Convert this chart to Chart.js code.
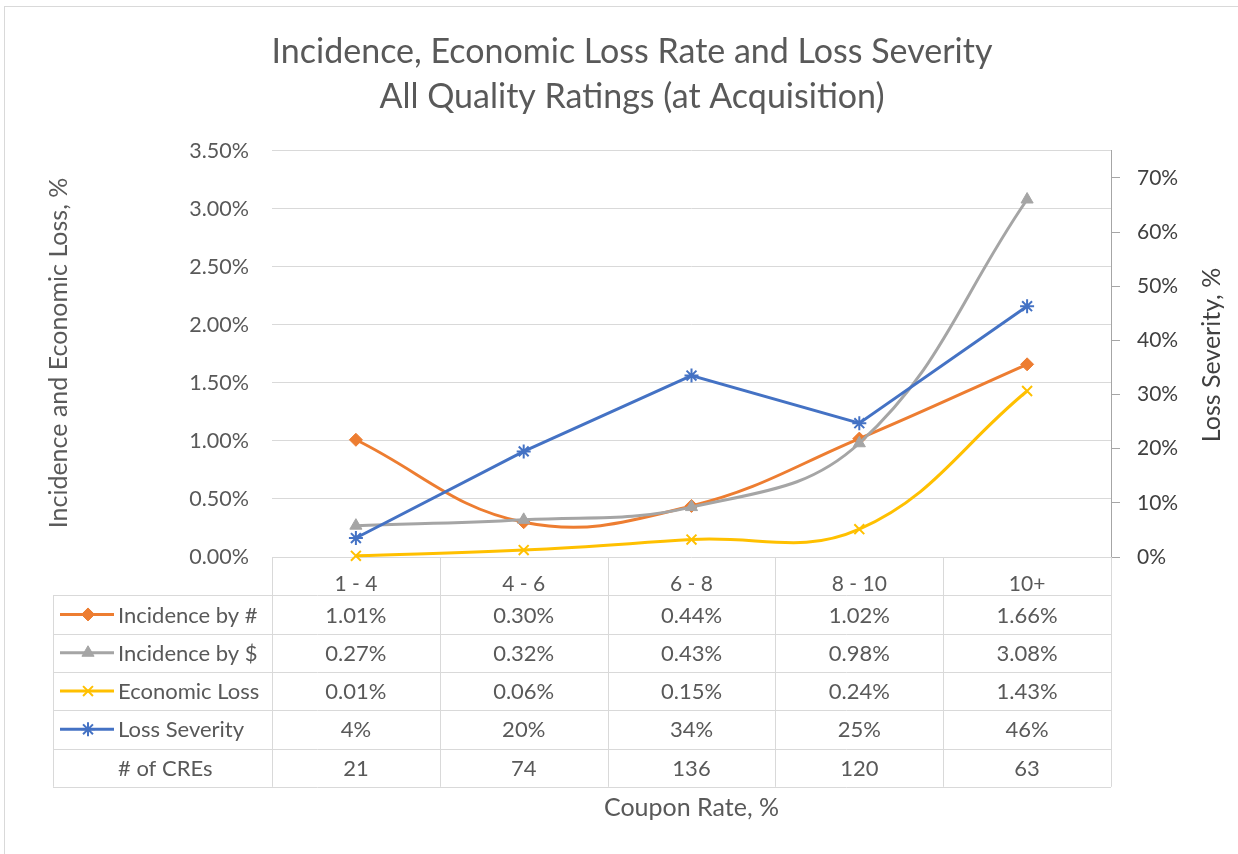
<!DOCTYPE html>
<html lang="en">
<head>
  <meta charset="UTF-8">
  <title>Incidence, Economic Loss Rate and Loss Severity</title>
  <script src="https://cdn.jsdelivr.net/npm/chart.js"></script>
  <style>
    html, body { margin: 0; padding: 0; background: #ffffff; }
    #chartBox { position: relative; width: 1238px; height: 854px; }
  </style>
</head>
<body>
  <div id="chartBox">
    <canvas id="grafica" width="1238" height="854"></canvas>
  </div>

  <script>
    // Datos
    const categories = ['1 - 4', '4 - 6', '6 - 8', '8 - 10', '10+'];
    const incidenceByCount = [1.01, 0.30, 0.44, 1.02, 1.66];
    const incidenceByDollar = [0.27, 0.32, 0.43, 0.98, 3.08];
    const economicLoss = [0.01, 0.06, 0.15, 0.24, 1.43];
    const lossSeverity = [3.5, 19.5, 33.5, 24.7, 46.3];
    const creCounts = [21, 74, 136, 120, 63];
    const leftTicks = [0, 0.5, 1, 1.5, 2, 2.5, 3, 3.5];
    const rightTicks = [0, 10, 20, 30, 40, 50, 60, 70];

    const FONT = 'Lato, "Open Sans", sans-serif';
    const GRID = '#D9D9D9';
    const TEXT = '#595959';

    // tabla de datos bajo el grafico + titulos de ejes
    const dataTable = {
      id: 'dataTable',
      beforeDraw(chart) {
        const ctx = chart.ctx;
        ctx.save();
        ctx.fillStyle = '#ffffff';
        ctx.fillRect(0, 0, chart.width, chart.height);
        ctx.strokeStyle = GRID;
        ctx.lineWidth = 1;
        ctx.strokeRect(4.5, 6.5, chart.width + 10, chart.height + 10);
        ctx.restore();
      },
      afterDraw(chart) {
        const { ctx, chartArea, scales } = chart;
        const x = scales.x;
        const colW = x.getPixelForValue(1) - x.getPixelForValue(0);
        const rowH = 38.3;
        const top = chartArea.bottom;
        const tableLeft = 53;
        const nRows = 5;
        const bottom = top + rowH * (nRows + 1);
        const px = v => Math.round(v) + 0.5;

        ctx.save();
        ctx.strokeStyle = GRID;
        ctx.lineWidth = 1;
        ctx.beginPath();
        for (let r = 1; r <= nRows + 1; r++) {
          const y = px(top + r * rowH);
          ctx.moveTo(tableLeft, y);
          ctx.lineTo(chartArea.right, y);
        }
        ctx.moveTo(px(tableLeft), top + rowH);
        ctx.lineTo(px(tableLeft), bottom);
        for (let i = 0; i <= categories.length; i++) {
          const xx = px(x.getPixelForValue(0) - colW / 2 + i * colW);
          ctx.moveTo(xx, top);
          ctx.lineTo(xx, bottom);
        }
        ctx.stroke();

        ctx.font = '22px ' + FONT;
        ctx.textBaseline = 'middle';
        const rows = chart.data.datasets.map(ds => ({
          ds: ds,
          label: ds.label,
          cells: ds.data.map(v => ds.yAxisID === 'y1' ? Math.round(v) + '%' : v.toFixed(2) + '%')
        }));
        rows.push({ ds: null, label: '# of CREs', cells: creCounts.map(String) });

        rows.forEach((row, r) => {
          const cy = top + (r + 1.5) * rowH;
          if (row.ds) {
            ctx.strokeStyle = row.ds.borderColor;
            ctx.lineWidth = 3;
            ctx.beginPath();
            ctx.moveTo(60, cy);
            ctx.lineTo(114, cy);
            ctx.stroke();
            ctx.fillStyle = row.ds.pointBackgroundColor;
            ctx.strokeStyle = row.ds.pointBorderColor;
            ctx.lineWidth = row.ds.pointBorderWidth;
            Chart.helpers.drawPoint(ctx, {
              pointStyle: row.ds.pointStyle,
              radius: row.ds.pointRadius,
              rotation: 0,
              borderWidth: row.ds.pointBorderWidth
            }, 88, cy);
          }
          ctx.fillStyle = TEXT;
          ctx.textAlign = 'left';
          ctx.fillText(row.label, 118, cy + 1);
          ctx.textAlign = 'center';
          row.cells.forEach((c, i) => {
            ctx.fillText(c, x.getPixelForValue(i), cy + 1);
          });
        });

        // titulos de ejes
        ctx.font = '25px ' + FONT;
        ctx.fillStyle = TEXT;
        ctx.textAlign = 'center';
        ctx.fillText('Coupon Rate, %', (chartArea.left + chartArea.right) / 2, 808);

        ctx.save();
        ctx.translate(59, 353);
        ctx.rotate(-Math.PI / 2);
        ctx.fillText('Incidence and Economic Loss, %', 0, 0);
        ctx.restore();

        ctx.save();
        ctx.fillStyle = '#404040';
        ctx.translate(1212, 355);
        ctx.rotate(-Math.PI / 2);
        ctx.fillText('Loss Severity, %', 0, 0);
        ctx.restore();

        ctx.restore();
      }
    };

    function lineSeries(label, data, color, style, radius, tension, axis, order) {
      return {
        label: label,
        data: data,
        yAxisID: axis,
        borderColor: color,
        backgroundColor: color,
        borderWidth: 3,
        pointStyle: style,
        pointRadius: radius,
        pointBackgroundColor: color,
        pointBorderColor: color,
        pointBorderWidth: (style === 'crossRot' || style === 'star') ? 2 : 1,
        tension: tension,
        clip: false,
        order: order
      };
    }

    const ctx = document.getElementById('grafica').getContext('2d');
    new Chart(ctx, {
      type: 'line',
      data: {
        labels: categories,
        datasets: [
          lineSeries('Incidence by #', incidenceByCount, '#ED7D31', 'rectRot', 6.5, 0.4, 'y', 3),
          lineSeries('Incidence by $', incidenceByDollar, '#A5A5A5', 'triangle', 7, 0.4, 'y', 2),
          lineSeries('Economic Loss', economicLoss, '#FFC000', 'crossRot', 7, 0.4, 'y', 1),
          lineSeries('Loss Severity', lossSeverity, '#4472C4', 'star', 7, 0, 'y1', 0)
        ]
      },
      options: {
        responsive: false,
        animation: false,
        layout: { padding: { left: 26, right: 0, top: 0, bottom: 0 } },
        plugins: {
          legend: { display: false },
          tooltip: { enabled: false },
          title: {
            display: true,
            text: ['Incidence, Economic Loss Rate and Loss Severity', 'All Quality Ratings (at Acquisition)'],
            color: TEXT,
            font: { family: FONT, size: 34, weight: 'normal', lineHeight: 1.32 },
            padding: { top: 30, bottom: 31 }
          }
        },
        scales: {
          x: {
            offset: true,
            grid: { display: false },
            border: { display: false },
            ticks: { color: TEXT, font: { family: FONT, size: 21 }, padding: 7 },
            afterFit: s => { s.height = 854 - 557; }
          },
          y: {
            position: 'left',
            min: 0,
            max: 3.5,
            grid: { color: GRID, lineWidth: 1, drawTicks: false },
            border: { display: false },
            ticks: {
              color: TEXT,
              font: { family: FONT, size: 21.5 },
              padding: 23,
              callback: v => v.toFixed(2) + '%'
            },
            afterBuildTicks: s => { s.ticks = leftTicks.map(v => ({ value: v })); },
            afterFit: s => { s.width = 272 - 26; }
          },
          y1: {
            position: 'right',
            min: 0,
            max: 75,
            grid: { drawOnChartArea: false, drawTicks: true, tickLength: 9, color: '#A6A6A6' },
            border: { display: true, color: '#A6A6A6', width: 1 },
            ticks: {
              color: '#404040',
              font: { family: FONT, size: 21 },
              padding: 17,
              callback: v => v + '%'
            },
            afterBuildTicks: s => { s.ticks = rightTicks.map(v => ({ value: v })); },
            afterFit: s => { s.width = 1238 - 1111; }
          }
        }
      },
      plugins: [dataTable]
    });
  </script>
</body>
</html>
